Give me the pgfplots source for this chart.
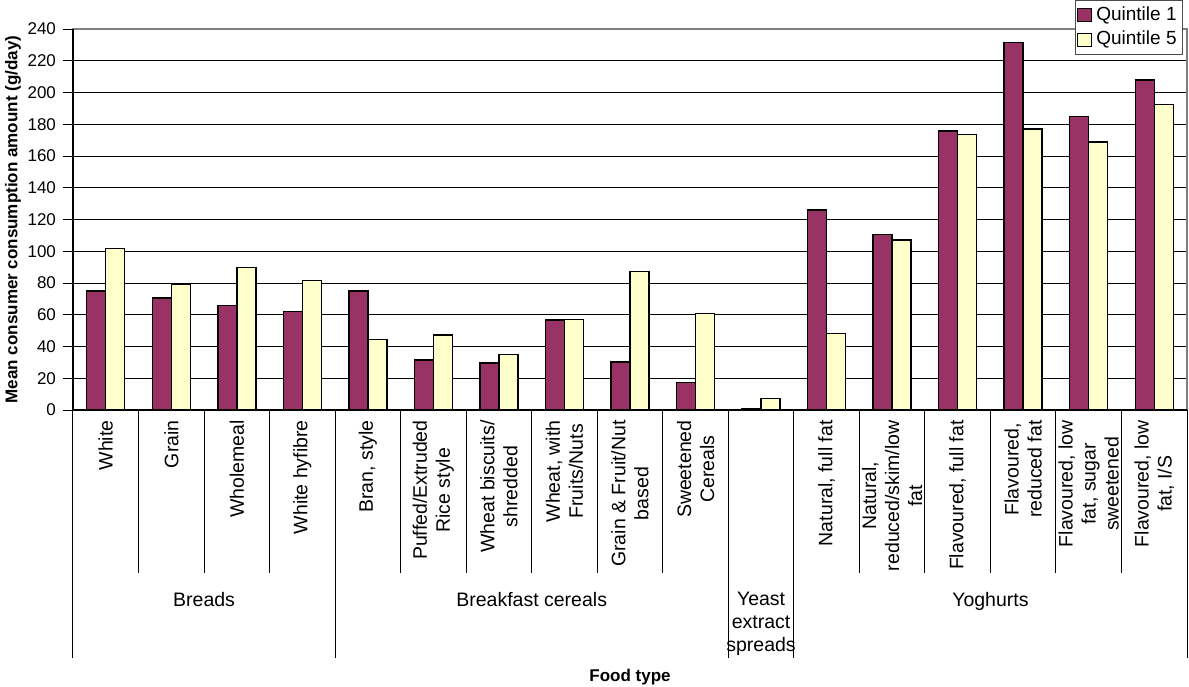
\documentclass[border=0pt]{standalone}
\usepackage{fontspec}
\setmainfont{Liberation Sans}
\usepackage{pgfplots}
\pgfplotsset{compat=1.18}
\definecolor{qone}{HTML}{993366}
\definecolor{qfive}{HTML}{FFFFCC}
\begin{document}
\begin{tikzpicture}
\begin{axis}[
  scale only axis,
  width=557pt, height=190.5pt,
  xmin=-0.5, xmax=16.5,
  ymin=0, ymax=240,
  ytick={0,20,...,240},
  xtick={0,...,16},
  xticklabels={White, Grain, Wholemeal, White hyfibre, {Bran, style},
    {Puffed/Extruded\\Rice style}, {Wheat biscuits/\\shredded},
    {Wheat, with\\Fruits/Nuts}, {Grain \& Fruit/Nut\\based},
    {Sweetened\\Cereals}, {},
    {Natural, full fat}, {Natural,\\reduced/skim/low\\fat},
    {Flavoured, full fat}, {Flavoured,\\reduced fat},
    {Flavoured, low\\fat, sugar\\sweetened}, {Flavoured, low\\fat, I/S}},
  xticklabel style={font=\fontsize{9.75}{11.5}\selectfont, rotate=90, anchor=east, align=center, inner sep=0pt},
  yticklabel style={font=\fontsize{8.5}{10}\selectfont},
  /pgf/number format/assume math mode=true,
  ybar=0pt, bar width=9.5pt,
  ymajorgrids, grid style={black, line width=0.5pt},
  axis line style={draw=gray, line width=0.6pt},
  tick align=outside,
  ytick pos=left, xtick pos=bottom,
  y tick style={black, line width=0.5pt},
  x tick style={draw=none},
  major tick length=5pt,
  clip=false,
  ylabel={Mean consumer consumption amount (g/day)},
  ylabel style={font=\bfseries\fontsize{8.5}{10}\selectfont, at={([xshift=-30pt]axis description cs:0,0.5)}, anchor=center},
  xlabel={Food type},
  xlabel style={font=\bfseries\fontsize{8.5}{10}\selectfont, at={([yshift=-133.5pt]axis description cs:0.5,0)}, anchor=center},
  legend style={at={(axis description cs:1,1)}, anchor=north east, xshift=-2pt, yshift=14.5pt,
    draw=black!70, fill=white, font=\fontsize{9.5}{11}\selectfont, inner xsep=1pt, inner ysep=1pt, row sep=0pt},
  legend cell align=left,
  legend image code/.code={\draw[#1, line width=0.5pt] (0pt,-3.25pt) rectangle (7pt,3.25pt);},
]
\addplot[fill=qone, draw=black, line width=0.7pt] coordinates {
(0,75) (1,70.5) (2,65.7) (3,62.1) (4,74.9) (5,31.5) (6,29.6) (7,56.6) (8,30.2)
(9,17.4) (10,1) (11,126.1) (12,110.4) (13,175.8) (14,231.4) (15,184.8) (16,207.9)};
\addplot[fill=qfive, draw=black, line width=0.7pt] coordinates {
(0,101.6) (1,78.9) (2,89.8) (3,81.6) (4,44.3) (5,47.2) (6,35) (7,57.1) (8,87.1)
(9,60.7) (10,7.4) (11,48.1) (12,107) (13,173.5) (14,177.1) (15,168.9) (16,192.6)};
\legend{Quintile 1, Quintile 5}
\draw[black, line width=0.6pt] (axis description cs:0,1) -- (axis description cs:0,0) -- (axis description cs:1,0);
\pgfplotsinvokeforeach{0.5,1.5,2.5,4.5,5.5,6.5,7.5,8.5,11.5,12.5,13.5,14.5,15.5}{
  \draw[black, line width=0.5pt] (axis cs:#1,0) -- ([yshift=-81.5pt]axis cs:#1,0);
}
\pgfplotsinvokeforeach{-0.5,3.5,9.5,10.5,16.5}{
  \draw[black, line width=0.5pt] (axis cs:#1,0) -- ([yshift=-124pt]axis cs:#1,0);
}
\node[anchor=north, align=center, inner sep=0pt, font=\fontsize{9.75}{11.5}\selectfont] at ([yshift=-91pt]axis cs:1.5,0) {Breads};
\node[anchor=north, align=center, inner sep=0pt, font=\fontsize{9.75}{11.5}\selectfont] at ([yshift=-91pt]axis cs:6.5,0) {Breakfast cereals};
\node[anchor=north, align=center, inner sep=0pt, font=\fontsize{9.75}{11.5}\selectfont] at ([yshift=-91pt]axis cs:10,0) {Yeast\\extract\\spreads};
\node[anchor=north, align=center, inner sep=0pt, font=\fontsize{9.75}{11.5}\selectfont] at ([yshift=-91pt]axis cs:13.5,0) {Yoghurts};
\coordinate (ll) at (axis description cs:0,0);
\coordinate (ur) at (axis description cs:1,1);
\end{axis}
\pgfresetboundingbox
\path[use as bounding box] ([xshift=-36.5pt, yshift=-138pt]ll) rectangle ([xshift=1pt, yshift=14.5pt]ur);
\end{tikzpicture}
\end{document}
